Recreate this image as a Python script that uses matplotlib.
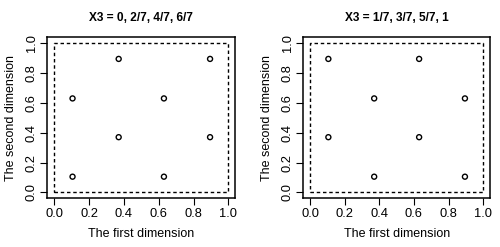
import matplotlib
matplotlib.use("Agg")
import matplotlib.pyplot as plt

plt.rcParams['font.family'] = ['Liberation Sans', 'DejaVu Sans']

titles = ["X3 = 0, 2/7, 4/7, 6/7", "X3 = 1/7, 3/7, 5/7, 1"]
x_left = [0.105, 0.105, 0.37, 0.37, 0.63, 0.63, 0.895, 0.895]
y_left = [0.105, 0.63, 0.37, 0.895, 0.105, 0.63, 0.37, 0.895]
x_right = [0.105, 0.105, 0.37, 0.37, 0.63, 0.63, 0.895, 0.895]
y_right = [0.37, 0.895, 0.105, 0.63, 0.37, 0.895, 0.105, 0.63]
ticks = [0.0, 0.2, 0.4, 0.6, 0.8, 1.0]
tick_labels = ["0.0", "0.2", "0.4", "0.6", "0.8", "1.0"]
xlabel = "The first dimension"
ylabel = "The second dimension"

fig = plt.figure(figsize=(5.0, 2.47), dpi=100)
W, H = 500, 247
rects = [(47.3, 37.3, 235.3, 198.3), (303.3, 37.3, 490.0, 198.3)]
data = [(x_left, y_left), (x_right, y_right)]

for (l, t, r, b), (xs, ys), title in zip(rects, data, titles):
    ax = fig.add_axes([l / W, (H - b) / H, (r - l) / W, (b - t) / H])
    ax.set_xlim(-0.04, 1.04)
    ax.set_ylim(-0.04, 1.04)
    ax.plot([0, 1, 1, 0, 0], [0, 0, 1, 1, 0], color='black', linestyle=(0, (2.5, 2)), linewidth=1.0)
    ax.scatter(xs, ys, s=13, facecolors='none', edgecolors='black', linewidths=1.0)
    ax.set_xticks(ticks)
    ax.set_xticklabels(tick_labels)
    ax.set_yticks(ticks)
    ax.set_yticklabels(tick_labels, rotation=90, va='center')
    ax.tick_params(direction='out', length=5, width=0.8, labelsize=9.3, pad=2)
    for s in ax.spines.values():
        s.set_linewidth(1.1)
    ax.set_xlabel(xlabel, fontsize=9, labelpad=6)
    ax.set_ylabel(ylabel, fontsize=9, labelpad=6)
    ax.set_title(title, fontsize=8.6, fontweight='bold', pad=12)

fig.savefig("out.png", dpi=100)
